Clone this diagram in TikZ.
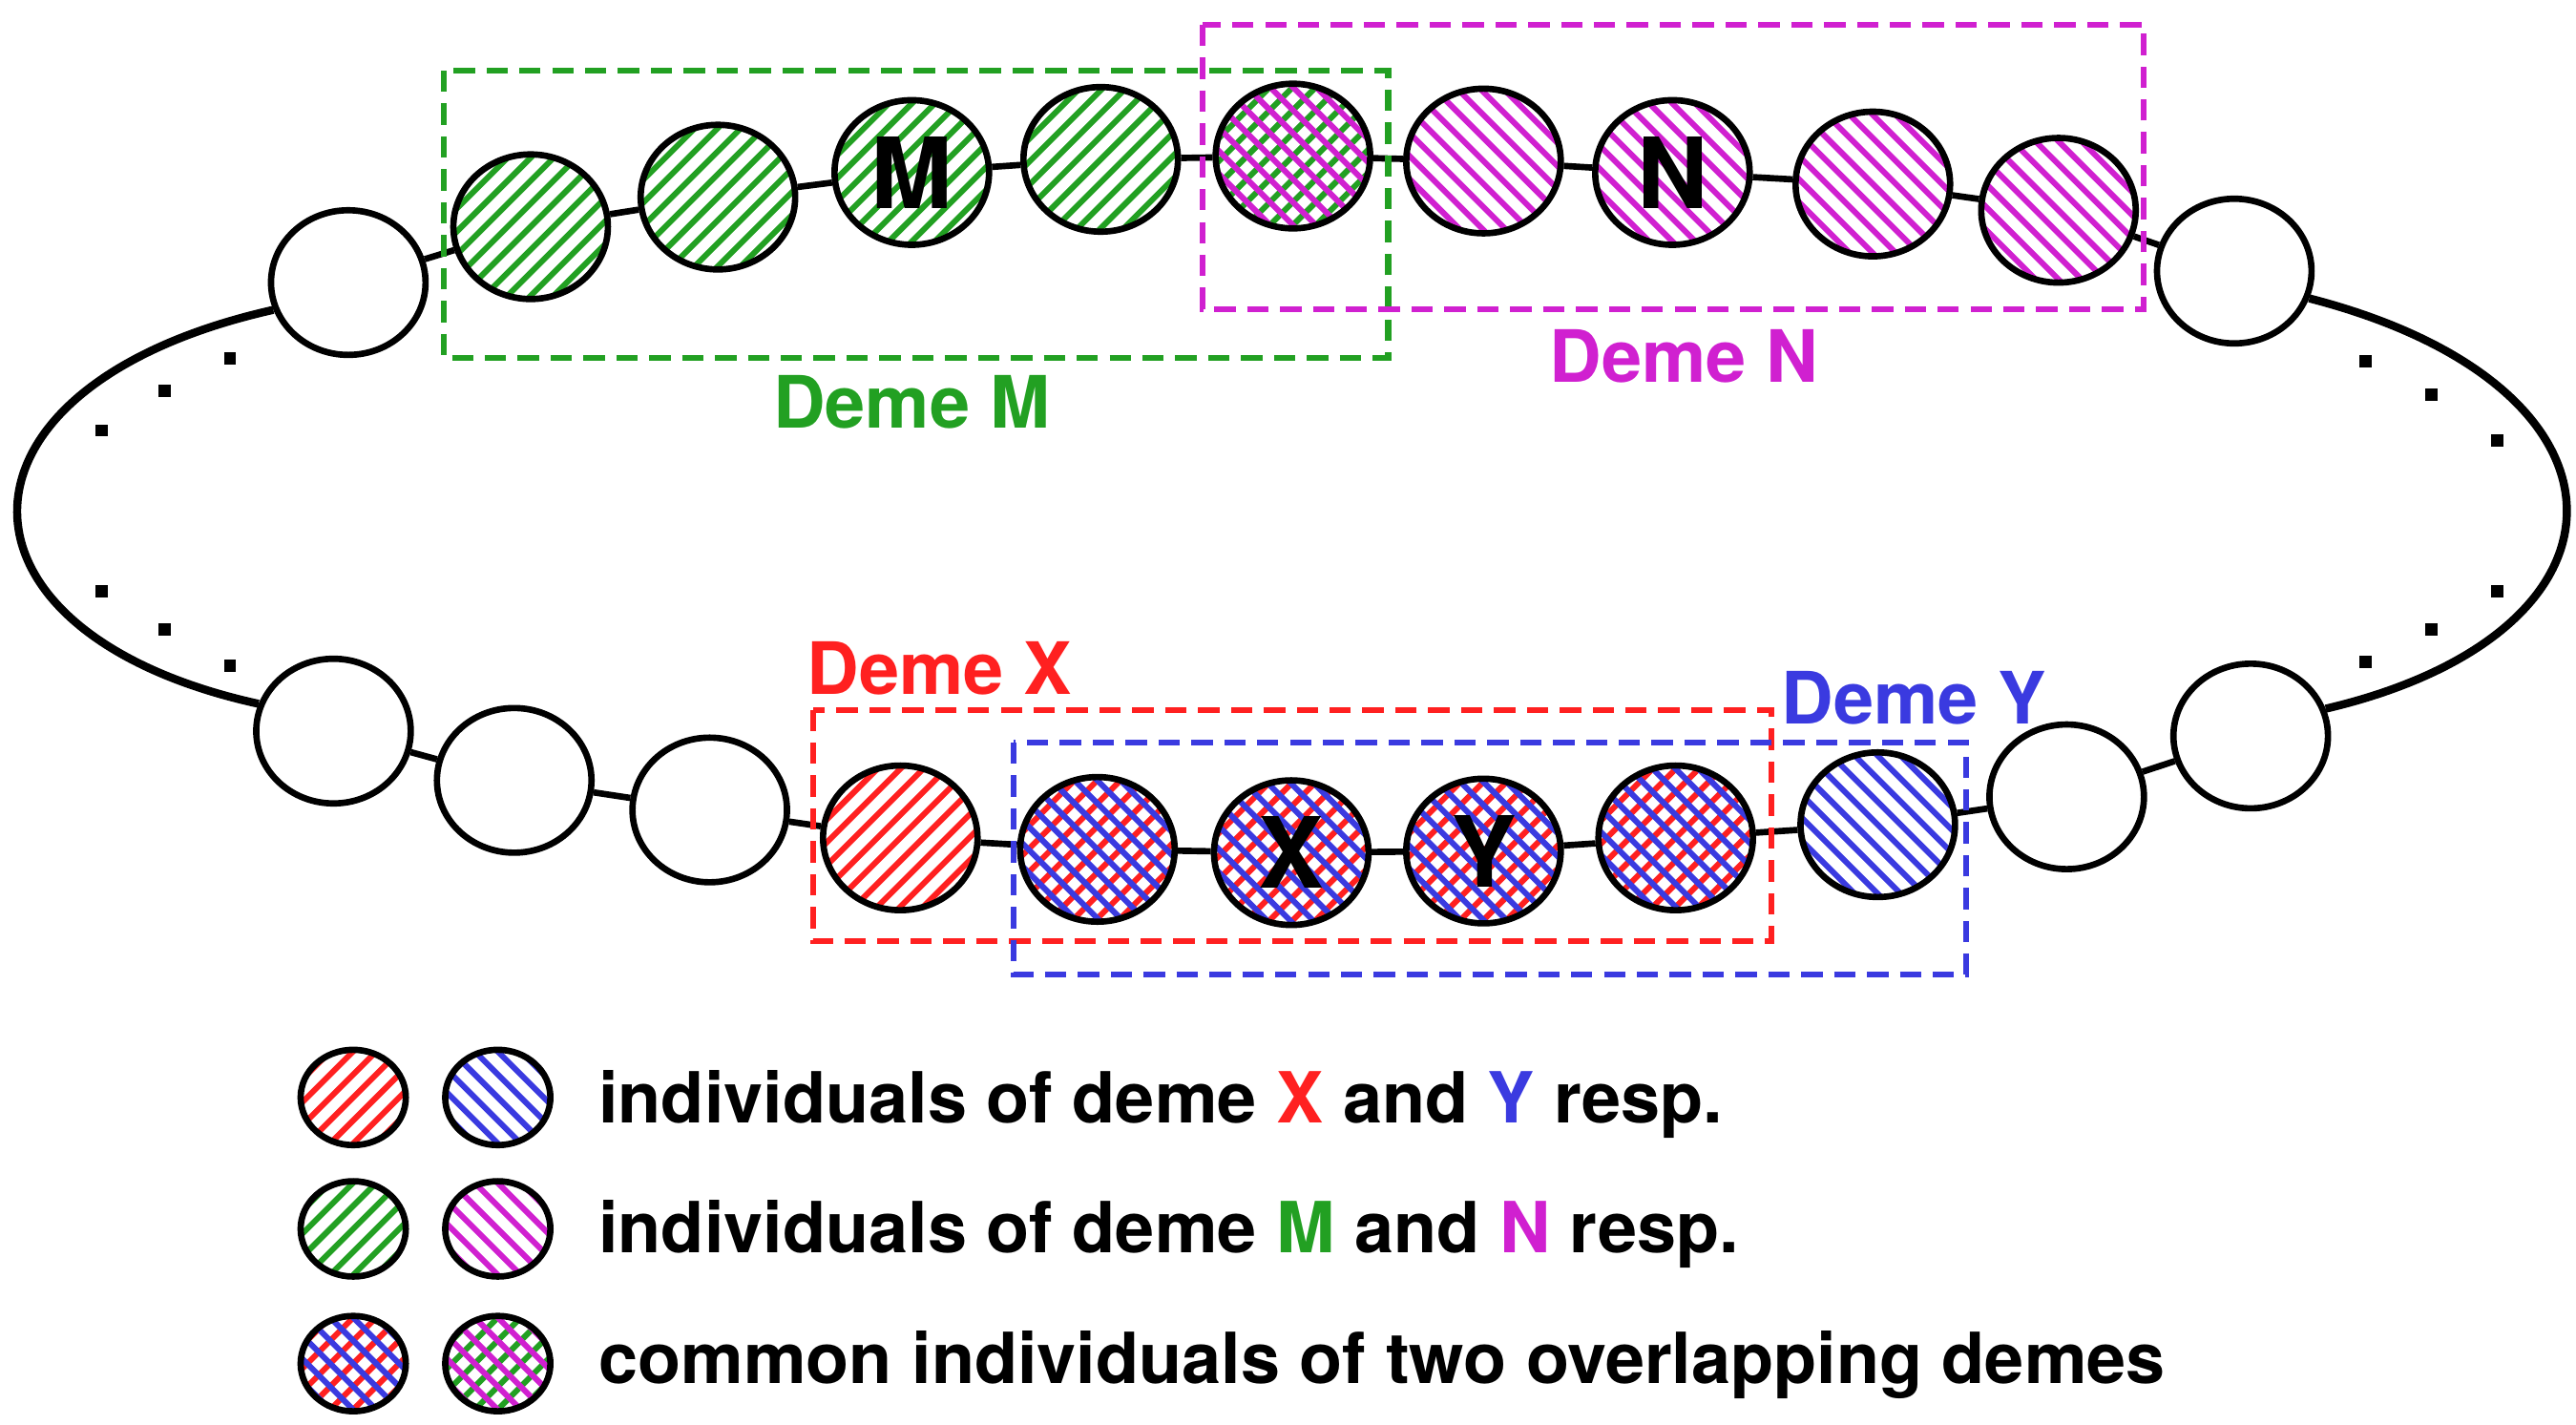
\documentclass[tikz,border=0pt]{standalone}
\usepackage{fontspec}
\setmainfont{TeX Gyre Heros}
\usetikzlibrary{shapes.geometric,calc}
\definecolor{cgrn}{HTML}{22A022}
\definecolor{cmag}{HTML}{D020D0}
\definecolor{cred}{HTML}{FF2020}
\definecolor{cblu}{HTML}{3A3AE0}
\tikzset{
 hl/.style={line width=1pt},
 ind/.style={ellipse,draw,line width=1.1pt,minimum width=0.94cm,minimum height=0.88cm,inner sep=0pt,font=\fontsize{17}{17}\selectfont\bfseries},
 leg/.style={ellipse,draw,line width=1.1pt,minimum width=0.64cm,minimum height=0.58cm,inner sep=0pt},
 box/.style={line width=1pt,dash pattern=on 0.13cm off 0.07cm},
 dlab/.style={font=\fontsize{12.5}{14}\selectfont\bfseries},
 ltxt/.style={anchor=west,font=\fontsize{12.2}{14}\selectfont\bfseries},
 chain/.style={line width=1.1pt},
 dot/.style={fill=black,minimum size=0.075cm,inner sep=0pt}
}
\newcommand\hne[4]{\begin{scope}\clip (#1) ellipse ({#2} and {#3});
 \foreach \i in {-112,-98,...,112} \draw[hl,#4] ($(#1)+(\i-60,60)$) -- ++(120,-120);\end{scope}}
\newcommand\hnw[4]{\begin{scope}\clip (#1) ellipse ({#2} and {#3});
 \foreach \i in {-112,-98,...,112} \draw[hl,#4] ($(#1)+(\i-60,-60)$) -- ++(120,120);\end{scope}}
\begin{document}
\begin{tikzpicture}[x=0.01cm,y=-0.01cm]
\useasboundingbox (0,0) rectangle (1568,867);
\hne{323,138}{0.47cm}{0.44cm}{cgrn}
\hne{437,120}{0.47cm}{0.44cm}{cgrn}
\hne{555,105}{0.47cm}{0.44cm}{cgrn}
\hne{670,97}{0.47cm}{0.44cm}{cgrn}
\hne{787,95}{0.47cm}{0.44cm}{cgrn}
\hnw{787,95}{0.47cm}{0.44cm}{cmag}
\hnw{903,98}{0.47cm}{0.44cm}{cmag}
\hnw{1018,105}{0.47cm}{0.44cm}{cmag}
\hnw{1140,112}{0.47cm}{0.44cm}{cmag}
\hnw{1253,128}{0.47cm}{0.44cm}{cmag}
\hne{548,510}{0.47cm}{0.44cm}{cred}
\foreach \xx/\yy in {668/517,786/519,903/518,1020/510}{
 \hne{\xx,\yy}{0.47cm}{0.44cm}{cred}
 \hnw{\xx,\yy}{0.47cm}{0.44cm}{cblu}}
\hnw{1143,502}{0.47cm}{0.44cm}{cblu}
\hne{215,668}{0.32cm}{0.29cm}{cred}
\hnw{303,668}{0.32cm}{0.29cm}{cblu}
\hne{215,748}{0.32cm}{0.29cm}{cgrn}
\hnw{303,748}{0.32cm}{0.29cm}{cmag}
\hne{215,830}{0.32cm}{0.29cm}{cred}\hnw{215,830}{0.32cm}{0.29cm}{cblu}
\hne{303,830}{0.32cm}{0.29cm}{cgrn}\hnw{303,830}{0.32cm}{0.29cm}{cmag}
\node[ind] (t0) at (212,172) {};
\node[ind] (t1) at (323,138) {};
\node[ind] (t2) at (437,120) {};
\node[ind] (t3) at (555,105) {M};
\node[ind] (t4) at (670,97) {};
\node[ind] (t5) at (787,95) {};
\node[ind] (t6) at (903,98) {};
\node[ind] (t7) at (1018,105) {N};
\node[ind] (t8) at (1140,112) {};
\node[ind] (t9) at (1253,128) {};
\node[ind] (t10) at (1360,165) {};
\node[ind] (b0) at (203,445) {};
\node[ind] (b1) at (313,475) {};
\node[ind] (b2) at (432,493) {};
\node[ind] (b3) at (548,510) {};
\node[ind] (b4) at (668,517) {};
\node[ind] (b5) at (786,519) {X};
\node[ind] (b6) at (903,518) {Y};
\node[ind] (b7) at (1020,510) {};
\node[ind] (b8) at (1143,502) {};
\node[ind] (b9) at (1258,485) {};
\node[ind] (b10) at (1370,448) {};
\foreach \a/\b in {0/1,1/2,2/3,3/4,4/5,5/6,6/7,7/8,8/9,9/10}{
 \draw[chain] (t\a) -- (t\b); \draw[chain] (b\a) -- (b\b);}
\draw[line width=1.4pt] (t0.200) .. controls (-40,235) and (-40,385) .. (b0.160);
\draw[line width=1.4pt] (t10.-20) .. controls (1613,235) and (1613,385) .. (b10.20);
\foreach \x/\y [count=\k] in {140/218,100/238,62/262,62/360,100/383,140/405,1440/220,1480/240,1520/268,1520/360,1480/383,1440/403}
 \node[dot] (d\k) at (\x,\y) {};
\draw[box,cgrn] (270,43) rectangle (845,218);
\draw[box,cmag] (732,15) rectangle (1305,188);
\draw[box,cred] (495,432) rectangle (1078,573);
\draw[box,cblu] (617,452) rectangle (1197,593);
\node[dlab,cgrn] (lm) at (555,245) {Deme M};
\node[dlab,cmag] (ln) at (1025,217) {Deme N};
\node[dlab,cred] (lx) at (572,407) {Deme X};
\node[dlab,cblu] (ly) at (1165,425) {Deme Y};
\node[leg] (l1) at (215,668) {};
\node[leg] (l2) at (303,668) {};
\node[leg] (l3) at (215,748) {};
\node[leg] (l4) at (303,748) {};
\node[leg] (l5) at (215,830) {};
\node[leg] (l6) at (303,830) {};
\node[ltxt] (tx1) at (352,672) {individuals of deme \textcolor{cred}{X} and \textcolor{cblu}{Y} resp.};
\node[ltxt] (tx2) at (352,751) {individuals of deme \textcolor{cgrn}{M} and \textcolor{cmag}{N} resp.};
\node[ltxt] (tx3) at (352,831) {common individuals of two overlapping demes};
\end{tikzpicture}
\end{document}
